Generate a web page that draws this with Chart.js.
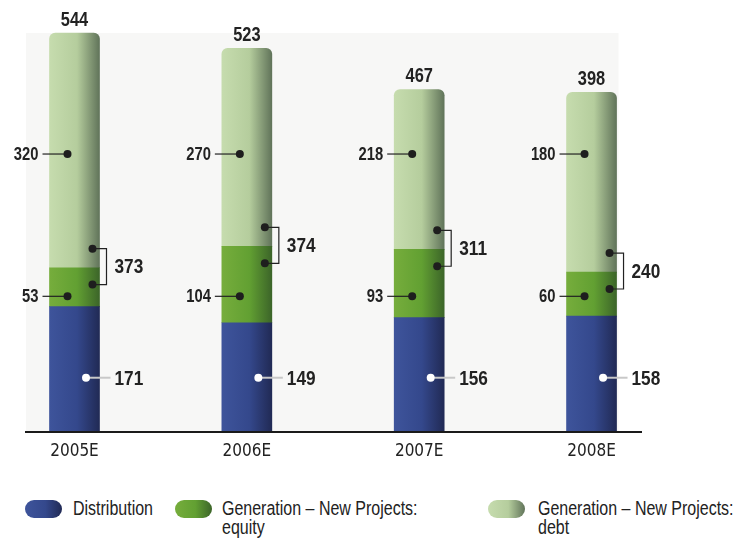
<!DOCTYPE html>
<html>
<head>
<meta charset="utf-8">
<script src="https://cdn.jsdelivr.net/npm/chart.js@4.4.1/dist/chart.umd.min.js"></script>
<style>
  body { margin: 0; background: #fff; }
  #wrap { position: relative; width: 733px; height: 540px; font-family: "Liberation Sans", Arial, sans-serif; color: #222; overflow: hidden; }
  #chartBox { position: absolute; left: 0; top: 0; width: 733px; height: 470px; }
  .sw { position: absolute; top: 500px; width: 37px; height: 18px; border-radius: 9px; }
  .lt { position: absolute; top: 499px; font-size: 19.5px; line-height: 19px; white-space: nowrap; transform: scaleX(0.82); transform-origin: 0 0; }
</style>
</head>
<body>
<div id="wrap">
  <div id="chartBox"><canvas id="barChart"></canvas></div>
  <div id="legend"></div>
</div>
<script>
const years = ['2005E', '2006E', '2007E', '2008E'];
const distribution = [171, 149, 156, 158];
const equity = [53, 104, 93, 60];
const debt = [320, 270, 218, 180];
// the 2008E debt segment is drawn taller in the original than its label says
const debtDrawn = [320, 270, 218, 245];
const seriesNames = ['Distribution', 'Generation – New Projects:\nequity', 'Generation – New Projects:\ndebt'];

// label rows sit at fixed heights (in value units) in the original
const debtDotLevel = 379;
const equityDotLevel = 185;
const distDotLevel = 74;

const gradStops = [
  ['#3e549b', '#34488c', '#212a55'],
  ['#76ad3c', '#62a032', '#3c6529'],
  ['#c6dcae', '#b5cd9d', '#61745a']
];

const FONT = '"Liberation Sans", Arial, sans-serif';

function barFill(set) {
  return (ctx) => {
    const chart = ctx.chart;
    if (!chart.chartArea) return gradStops[set][1];
    const cx = chart.scales.x.getPixelForValue(ctx.dataIndex);
    const g = chart.ctx.createLinearGradient(cx - 25, 0, cx + 25, 0);
    g.addColorStop(0, gradStops[set][0]);
    g.addColorStop(0.55, gradStops[set][1]);
    g.addColorStop(1, gradStops[set][2]);
    return g;
  };
}

const pts = (arr) => arr.map((v, i) => ({ x: i, y: v }));

// narrow text: a regular face squeezed sideways
function narrowText(ctx, txt, x, y, size, align, baseline) {
  ctx.save();
  ctx.translate(x, y);
  ctx.scale(0.82, 1);
  ctx.font = 'bold ' + size + 'px ' + FONT;
  ctx.textAlign = align;
  ctx.textBaseline = baseline;
  ctx.fillStyle = '#222';
  ctx.fillText(txt, 0, 0);
  ctx.restore();
}

function dot(ctx, x, y, color) {
  ctx.beginPath();
  ctx.arc(x, y, 4, 0, Math.PI * 2);
  ctx.fillStyle = color;
  ctx.fill();
}

const labelPlugin = {
  id: 'labels',
  beforeDatasetsDraw(chart) {
    const { ctx, chartArea, scales: { x, y } } = chart;
    const top = y.getPixelForValue(distribution[0] + equity[0] + debtDrawn[0]);
    ctx.save();
    ctx.fillStyle = '#f7f7f6';
    ctx.fillRect(chartArea.left, top, x.getPixelForValue(3) + 27 - chartArea.left, chartArea.bottom - top);
    ctx.restore();
  },
  afterDraw(chart) {
    const { ctx, scales: { x, y } } = chart;
    ctx.save();
    years.forEach((yr, i) => {
      const cx = x.getPixelForValue(i);
      const total = distribution[i] + equity[i] + debt[i];
      const top = y.getPixelForValue(distribution[i] + equity[i] + debtDrawn[i]);

      narrowText(ctx, total, cx, top - 7, 20, 'center', 'alphabetic');

      // left callouts: debt and equity
      [[debt[i], debtDotLevel], [equity[i], equityDotLevel]].forEach(([v, lvl]) => {
        const py = y.getPixelForValue(lvl);
        ctx.strokeStyle = '#222';
        ctx.lineWidth = 1.2;
        ctx.beginPath();
        ctx.moveTo(cx - 32, py);
        ctx.lineTo(cx - 7, py);
        ctx.stroke();
        dot(ctx, cx - 7, py, '#1e1e1e');
        narrowText(ctx, v, cx - 36, py + 1, 18, 'right', 'middle');
      });

      // distribution callout
      const dy = y.getPixelForValue(distDotLevel);
      ctx.strokeStyle = '#c8c8c8';
      ctx.lineWidth = 2;
      ctx.beginPath();
      ctx.moveTo(cx + 12, dy);
      ctx.lineTo(cx + 36, dy);
      ctx.stroke();
      dot(ctx, cx + 11.5, dy, '#fff');
      narrowText(ctx, distribution[i], cx + 40, dy + 1, 21, 'left', 'middle');

      // bracket round the equity/debt boundary
      const b = distribution[i] + equity[i];
      const y1 = y.getPixelForValue(b + 26);
      const y2 = y.getPixelForValue(b - 23);
      ctx.strokeStyle = '#222';
      ctx.lineWidth = 1.2;
      ctx.beginPath();
      ctx.moveTo(cx + 18, y1);
      ctx.lineTo(cx + 32, y1);
      ctx.lineTo(cx + 32, y2);
      ctx.lineTo(cx + 18, y2);
      ctx.stroke();
      dot(ctx, cx + 18, y1, '#1e1e1e');
      dot(ctx, cx + 18, y2, '#1e1e1e');
      narrowText(ctx, equity[i] + debt[i], cx + 40, (y1 + y2) / 2 + 1, 21, 'left', 'middle');
    });
    ctx.restore();
  }
};

const chart = new Chart(document.getElementById('barChart'), {
  type: 'bar',
  data: {
    datasets: [
      { label: seriesNames[0], data: pts(distribution), backgroundColor: barFill(0), borderRadius: 0 },
      { label: seriesNames[1], data: pts(equity), backgroundColor: barFill(1), borderRadius: 0 },
      { label: seriesNames[2], data: pts(debtDrawn), backgroundColor: barFill(2),
        borderRadius: { topLeft: 6, topRight: 6, bottomLeft: 0, bottomRight: 0 }, borderSkipped: false }
    ]
  },
  options: {
    responsive: true,
    maintainAspectRatio: false,
    animation: false,
    barThickness: 50,
    layout: { padding: { left: 26, right: 92, top: 0, bottom: 0 } },
    plugins: { legend: { display: false }, tooltip: { enabled: false } },
    scales: {
      x: {
        type: 'linear',
        offset: false,
        bounds: 'ticks',
        min: -0.2814,
        max: 3.287,
        stacked: true,
        z: 1,
        grid: { display: false, offset: false },
        border: { display: true, color: '#1a1a1a', width: 2, z: 1 },
        afterBuildTicks: (s) => { s.ticks = years.map((_, i) => ({ value: i })); },
        afterFit: (s) => { s.height = 38; },
        ticks: {
          callback: (v) => years[v],
          color: '#222',
          padding: 1,
          maxRotation: 0,
          autoSkip: false,
          font: { family: '"DejaVu Sans Condensed", sans-serif', size: 17 }
        }
      },
      y: { display: false, stacked: true, min: 0, max: 589 }
    }
  },
  plugins: [labelPlugin]
});

// HTML legend, two-line labels as in the original
const legendPos = [[25, 73], [175, 222], [488, 538]];
const legendEl = document.getElementById('legend');
seriesNames.forEach((name, i) => {
  const sw = document.createElement('div');
  sw.className = 'sw';
  sw.style.left = legendPos[i][0] + 'px';
  sw.style.background = `linear-gradient(to right, ${gradStops[i][0]}, ${gradStops[i][1]} 55%, ${gradStops[i][2]})`;
  legendEl.appendChild(sw);
  const t = document.createElement('div');
  t.className = 'lt';
  t.style.left = legendPos[i][1] + 'px';
  t.innerHTML = name.split('\n').join('<br>');
  legendEl.appendChild(t);
});
</script>
</body>
</html>
